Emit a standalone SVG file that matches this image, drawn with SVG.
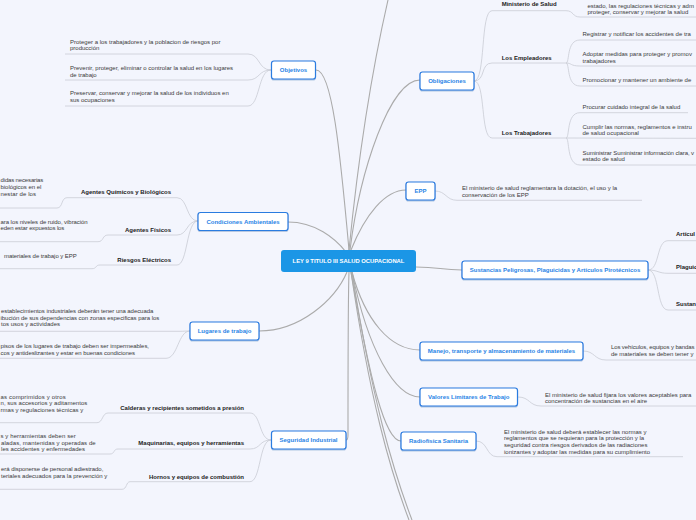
<svg xmlns="http://www.w3.org/2000/svg" width="696" height="520" viewBox="0 0 696 520">
<defs>
<filter id="sh" x="-10%" y="-20%" width="120%" height="150%"><feDropShadow dx="0" dy="0.8" stdDeviation="0.6" flood-color="#1a4f9a" flood-opacity="0.35"/></filter>
<style>
.bg{fill:#f3f5fd}
.main{fill:none;stroke:#ababab;stroke-width:1.1}
.sub{fill:none;stroke:#c9ccd4;stroke-width:0.8}
.node rect{fill:#ffffff;stroke:#2b7be0;stroke-width:1.2}
.node text{font-family:"Liberation Sans",Arial,sans-serif;font-weight:bold;font-size:6px;fill:#2a84e6;text-anchor:middle}
.root rect{fill:#1b96e6}
.root text{font-family:"Liberation Sans",Arial,sans-serif;font-weight:bold;font-size:5.85px;fill:#ffffff;text-anchor:middle}
.lab{font-family:"Liberation Sans",Arial,sans-serif;font-weight:bold;font-size:6px;fill:#222222}
.labr{font-family:"Liberation Sans",Arial,sans-serif;font-weight:bold;font-size:6px;fill:#222222;text-anchor:end}
.txt{font-family:"Liberation Sans",Arial,sans-serif;font-size:6px;fill:#3a3a3a}
</style>
</defs>
<rect class="bg" x="0" y="0" width="696" height="520"/>
<g id="connectors">
<path class="main" d="M316,70 C332,70 340,150 349,250"/>
<path class="main" d="M349,250 C358,160 372,70 388,0"/>
<path class="main" d="M350,250 C360,170 390,80 420,80"/>
<path class="main" d="M351,250 C365,215 385,190 406,190"/>
<path class="main" d="M288,222 C315,222 335,238 346,252"/>
<path class="main" d="M416,267 C440,267 440,270 462,270"/>
<path class="main" d="M259,331 C300,331 335,300 347,272"/>
<path class="main" d="M349,272 C348,300 348,420 348,435 Q348,440 346,440"/>
<path class="main" d="M352,272 C365,320 390,350 420,350"/>
<path class="main" d="M352,272 C368,350 395,397 420,397"/>
<path class="main" d="M351,272 C370,380 385,441 401,441"/>
<path class="main" d="M351,272 C370,400 390,470 409,520"/>
<path class="main" d="M352,272 C372,400 393,470 412,520"/>
<path class="sub" d="M271,70 C258,70 260,54 248,54 L65,54"/>
<path class="sub" d="M271,70 C258,70 260,80 248,80 L65,80"/>
<path class="sub" d="M271,70 C258,70 260,106 248,106 L65,106"/>
<path class="sub" d="M198,221 C186,221 188,197.7 177,197.7 L67,197.7 C61,197.7 63,208 57,208 L0,208"/>
<path class="sub" d="M198,221 C186,221 188,235 177,235 L108,235 C102,235 104,241.7 98,241.7 L0,241.7"/>
<path class="sub" d="M198,221 C186,221 188,265 177,265 L100,265 C95,265 97,268.7 92,268.7 L0,268.7"/>
<path class="sub" d="M190,331 C185,331 184,331.3 180,331.3 L0,331.3"/>
<path class="sub" d="M190,331 C178,331 178,358.3 166,358.3 L0,358.3"/>
<path class="sub" d="M271,440 C259,440 261,413 250,413 L108,413 C102,413 103,422.7 97,422.7 L0,422.7"/>
<path class="sub" d="M271,440 C259,440 261,449 250,449 L118,449 C113,449 115,454 110,454 L0,454"/>
<path class="sub" d="M271,440 C259,440 261,481.7 250,481.7 L130,481.7 C126,481.7 127,489.3 122,489.3 L0,489.3"/>
<path class="sub" d="M474,81 C486,81 480,10.7 492,10.7 L566,10.7 C574,10.7 572,17 580,17 L696,17"/>
<path class="sub" d="M474,81 C486,81 480,63 492,63 L566,63"/>
<path class="sub" d="M474,81 C486,81 480,138 492,138 L566,138"/>
<path class="sub" d="M566,63 C570,63 566,40 580,40 L696,40"/>
<path class="sub" d="M566,63 C572,63 570,66 580,66 L696,66"/>
<path class="sub" d="M566,63 C570,63 566,86 580,86 L696,86"/>
<path class="sub" d="M566,138 C570,138 566,112.7 580,112.7 L688,112.7"/>
<path class="sub" d="M566,138 L696,138.3"/>
<path class="sub" d="M566,138 C570,138 566,165 580,165 L696,165"/>
<path class="sub" d="M435,191 C446,191 446,200.3 457,200.3 L642,200.3"/>
<path class="sub" d="M648,270 C660,270 656,240.7 668,240.7 L696,240.7"/>
<path class="sub" d="M648,270 C658,270 658,273.3 668,273.3 L696,273.3"/>
<path class="sub" d="M648,270 C660,270 656,310 668,310 L696,310"/>
<path class="sub" d="M583,351 C595,351 594,360 606,360 L696,360"/>
<path class="sub" d="M518,397 C530,397 529,406 541,406 L696,406"/>
<path class="sub" d="M476,441 C488,441 486,456.7 497,456.7 L683,456.7"/>
</g>
<g id="root" class="root"><rect x="281" y="250" width="135" height="22" rx="3"/><text x="348.5" y="263">LEY 9 TITULO III SALUD OCUPACIONAL</text></g>
<g id="objetivos" class="node"><rect x="271.5" y="61" width="44" height="18" rx="2.5" filter="url(#sh)"/><text x="293.5" y="72.2">Objetivos</text></g>
<g id="condiciones" class="node"><rect x="198" y="212.5" width="90" height="18" rx="2.5" filter="url(#sh)"/><text x="243" y="223.7">Condiciones Ambientales</text></g>
<g id="lugares" class="node"><rect x="190" y="322" width="69" height="18" rx="2.5" filter="url(#sh)"/><text x="224.5" y="333.2">Lugares de trabajo</text></g>
<g id="seguridad" class="node"><rect x="271.5" y="431" width="74.5" height="18" rx="2.5" filter="url(#sh)"/><text x="308.5" y="442.2">Seguridad Industrial</text></g>
<g id="obligaciones" class="node"><rect x="420" y="72" width="54" height="18" rx="2.5" filter="url(#sh)"/><text x="447" y="83.2">Obligaciones</text></g>
<g id="epp" class="node"><rect x="406" y="182" width="29" height="18" rx="2.5" filter="url(#sh)"/><text x="420.5" y="193.2">EPP</text></g>
<g id="sustancias" class="node"><rect x="462" y="261" width="186" height="18" rx="2.5" filter="url(#sh)"/><text x="555" y="272.2">Sustancias Peligrosas, Plaguicidas y Artículos Pirotécnicos</text></g>
<g id="manejo" class="node"><rect x="420" y="342" width="163" height="18" rx="2.5" filter="url(#sh)"/><text x="501.5" y="353.2">Manejo, transporte y almacenamiento de materiales</text></g>
<g id="valores" class="node"><rect x="420" y="388" width="97.5" height="18" rx="2.5" filter="url(#sh)"/><text x="468.7" y="399.2">Valores Limitares de Trabajo</text></g>
<g id="radiofisica" class="node"><rect x="401" y="432" width="75" height="18" rx="2.5" filter="url(#sh)"/><text x="438.5" y="443.2">Radiofisica Sanitaria</text></g>
<g id="objetivos-items">
<text class="txt" x="70" y="43.5">Proteger a los trabajadores y la poblacion de riesgos por</text>
<text class="txt" x="70" y="50">producción</text>
<text class="txt" x="70" y="70">Prevenir, proteger, eliminar o controlar la salud en los lugares</text>
<text class="txt" x="70" y="76.5">de trabajo</text>
<text class="txt" x="70" y="95.3">Preservar, conservar y mejorar la salud de los individuos en</text>
<text class="txt" x="70" y="102">sus ocupaciones</text>
</g>
<g id="condiciones-items">
<text class="labr" x="171" y="194">Agentes Químicos y Biológicos</text>
<text class="labr" x="171" y="231.5">Agentes Físicos</text>
<text class="labr" x="171" y="262">Riesgos Eléctricos</text>
<text class="txt" x="0.5" y="182" textLength="42.8">didas necesarias</text>
<text class="txt" x="0.5" y="188.7" textLength="40.8">biológicos en el</text>
<text class="txt" x="0.5" y="196" textLength="35.5">nestar de los</text>
<text class="txt" x="0.5" y="224.3" textLength="87.2">ara los niveles de ruido, vibración</text>
<text class="txt" x="0.5" y="230.3" textLength="63.8">eden estar expuestos los</text>
<text class="txt" x="4" y="257.7" textLength="72.7">materiales de trabajo y EPP</text>
</g>
<g id="lugares-items">
<text class="txt" x="1" y="312.7" textLength="152.3">establecimientos industriales deberán tener una adecuada</text>
<text class="txt" x="0.5" y="320" textLength="158.8">ibución de sus dependencias con zonas especificas para los</text>
<text class="txt" x="1" y="326.3" textLength="59">tos usos y actividades</text>
<text class="txt" x="0.5" y="347.7" textLength="148.5">pisos de los lugares de trabajo deben ser impermeables,</text>
<text class="txt" x="0.5" y="354.7" textLength="134.5">cos y antideslizantes y estar en buenas condiciones</text>
</g>
<g id="seguridad-items">
<text class="labr" x="244" y="409.5">Calderas y recipientes sometidos a presión</text>
<text class="labr" x="244" y="445">Maquinarias, equipos y herramientas</text>
<text class="labr" x="244" y="478.5">Hornos y equipos de combustión</text>
<text class="txt" x="0.5" y="399.3" textLength="65.2">as comprimidos y otros</text>
<text class="txt" x="0.5" y="405.3" textLength="86.8">n, sus accesorios y aditamentos</text>
<text class="txt" x="0.5" y="412" textLength="82.8">rmas y regulaciones técnicas y</text>
<text class="txt" x="0.5" y="438" textLength="75.2">s y herramientas deben ser</text>
<text class="txt" x="1" y="444.7" textLength="94.7">aladas, mantenidas y operadas de</text>
<text class="txt" x="1" y="451.3" textLength="84">les accidentes y enfermedades</text>
<text class="txt" x="1" y="471.3" textLength="102.3">erá disponerse de personal adiestrado,</text>
<text class="txt" x="1" y="478" textLength="106.3">teriales adecuados para la prevención y</text>
</g>
<g id="obligaciones-items">
<text class="lab" x="501.7" y="6.3">Ministerio de Salud</text>
<text class="lab" x="501.7" y="60">Los Empleadores</text>
<text class="lab" x="501.7" y="135">Los Trabajadores</text>
<text class="txt" x="587.5" y="8">estado, las regulaciones técnicas y adm</text>
<text class="txt" x="587.5" y="14.3">proteger, conservar y mejorar la salud</text>
<text class="txt" x="582.5" y="36">Registrar y notificar los accidentes de tra</text>
<text class="txt" x="582.5" y="56.3">Adoptar medidas para proteger y promov</text>
<text class="txt" x="582.5" y="63">trabajadores</text>
<text class="txt" x="582.5" y="82.3">Promocionar y mantener un ambiente de</text>
<text class="txt" x="582.5" y="109.3">Procurar cuidado integral de la salud</text>
<text class="txt" x="582.5" y="128.7">Cumplir las normas, reglamentos e instru</text>
<text class="txt" x="582.5" y="135.3">de salud ocupacional</text>
<text class="txt" x="582.5" y="154.7" textLength="111.5">Suministrar Suministrar información clara, v</text>
<text class="txt" x="582.5" y="161">estado de salud</text>
</g>
<g id="epp-items">
<text class="txt" x="462" y="189.7">El ministerio de salud reglamentara la dotación, el uso y la</text>
<text class="txt" x="462" y="196.7">conservación de los EPP</text>
</g>
<g id="sustancias-items">
<text class="lab" x="676" y="236">Artícul</text>
<text class="lab" x="676" y="269">Plaguic</text>
<text class="lab" x="676" y="306">Sustan</text>
</g>
<g id="manejo-items">
<text class="txt" x="611" y="349.3" textLength="83.5">Los vehículos, equipos y bandas</text>
<text class="txt" x="611" y="356">de materiales se deben tener y</text>
</g>
<g id="valores-items">
<text class="txt" x="545" y="396.7">El ministerio de salud fijara los valores aceptables para</text>
<text class="txt" x="545" y="403">concentración de sustancias en el aire</text>
</g>
<g id="radiofisica-items">
<text class="txt" x="504" y="433.5">El ministerio de salud deberá establecer las normas y</text>
<text class="txt" x="504" y="440.2">reglamentos que se requieran para la protección y la</text>
<text class="txt" x="504" y="446.9">seguridad contra riesgos derivados de las radiaciones</text>
<text class="txt" x="504" y="453.6">ionizantes y adoptar las medidas para su cumplimiento</text>
</g>
</svg>
